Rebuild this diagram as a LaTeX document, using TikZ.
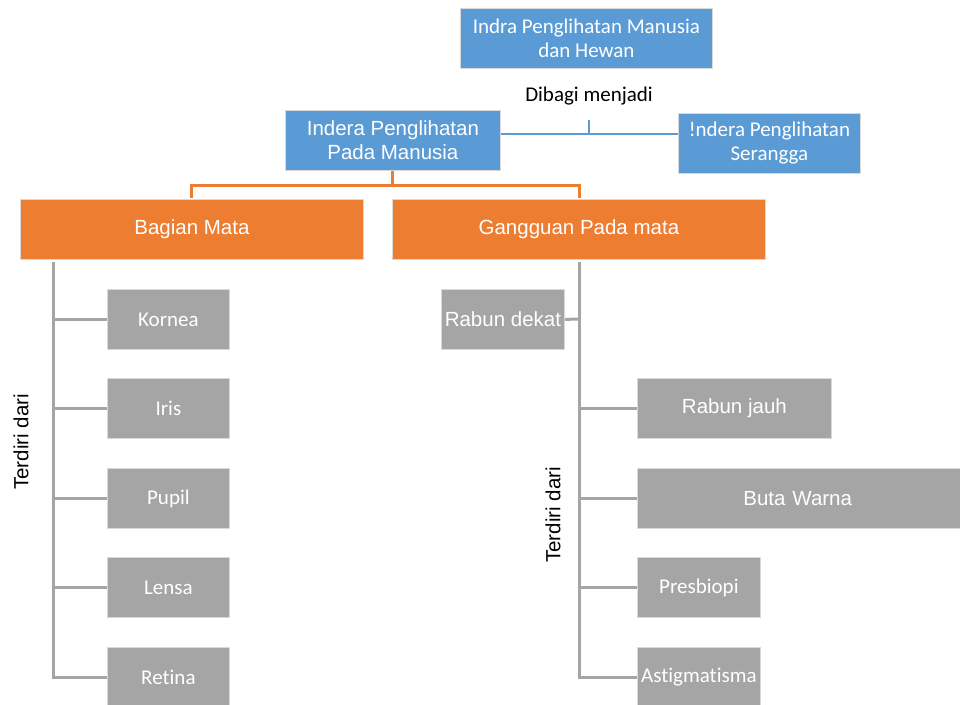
\documentclass[tikz,border=0pt]{standalone}
\usepackage{fontspec}
\setmainfont{Carlito}[Ligatures=NoCommon]
\newfontfamily\arialf{Liberation Sans}
\definecolor{cblue}{HTML}{5B9BD5}
\definecolor{corange}{HTML}{ED7D31}
\definecolor{cgray}{HTML}{A5A5A5}
\begin{document}
\begin{tikzpicture}[x=1pt,y=-1pt,
  box/.style={draw=white!85!black, line width=0.8pt, text=white, align=center, inner sep=0pt, anchor=north west},
  bluebox/.style={box, fill=cblue, font=\fontsize{21}{24}\selectfont},
  orbox/.style={box, fill=corange, font=\arialf\fontsize{20.5}{24}\selectfont},
  graybox/.style={box, fill=cgray, font=\fontsize{21}{24}\selectfont},
  grayboxa/.style={box, fill=cgray, font=\arialf\fontsize{20.5}{24}\selectfont},
  bline/.style={draw=cblue, line width=1.5pt},
  oline/.style={draw=corange, line width=3pt},
  gline/.style={draw=cgray, line width=3pt},
  lbl/.style={font=\fontsize{21}{24}\selectfont, text=black, inner sep=0pt}
]
\useasboundingbox (0,0) rectangle (960,704);
\clip (0,0) rectangle (960,704);
% top
\node[bluebox, minimum width=252pt, minimum height=60pt] (top) at (460,8) {Indra Penglihatan Manusia\\dan Hewan};
\node[lbl] (dibagi) at (589,96) {Dibagi menjadi};
\node[bluebox, font=\arialf\fontsize{20.5}{24}\selectfont, minimum width=215pt, minimum height=60pt] (manusia) at (285,110) {Indera Penglihatan\\Pada Manusia};
\node[bluebox, minimum width=182pt, minimum height=60pt] (serangga) at (678,113) {!ndera Penglihatan\\Serangga};
\coordinate (tick) at (589,120);
\draw[bline] (manusia.east |- 0,134) -- (serangga.west |- 0,134);
\draw[bline] (tick) -- (589,134);
% orange
\node[orbox, minimum width=343pt, minimum height=60pt] (bagian) at (20,199) {Bagian Mata};
\node[orbox, minimum width=373pt, minimum height=60pt] (gangguan) at (392,199) {Gangguan Pada mata};
\draw[oline] (manusia.south -| 392,0) -- (392,185) -| (191,198);
\draw[oline] (392,185) -| (579,198);
% left gray
\foreach \n/\t/\y in {kornea/Kornea/289, iris/Iris/378, pupil/Pupil/468, lensa/Lensa/557, retina/Retina/647}{
  \node[graybox, minimum width=122pt, minimum height=60pt] (\n) at (107,\y) {\t};
}
\draw[gline] (53,262) -- (53,0 |- retina.west) -- (retina.west);
\foreach \n in {kornea,iris,pupil,lensa}{\draw[gline] (53,0 |- \n.west) -- (\n.west);}
\node[lbl, font=\arialf\fontsize{20.5}{24}\selectfont, rotate=90] (terdiri1) at (21,442) {Terdiri dari};
% right gray
\node[grayboxa, minimum width=123pt, minimum height=60pt] (dekat) at (441,289) {Rabun dekat};
\node[grayboxa, minimum width=194pt, minimum height=60pt] (jauh) at (637,378) {Rabun jauh};
\node[grayboxa, minimum width=330pt, minimum height=60pt, text width=330pt, align=left] (buta) at (637,468) {\hspace*{106pt}Buta Warna};
\node[graybox, minimum width=123pt, minimum height=60pt] (presbiopi) at (637,557) {Presbiopi};
\node[graybox, minimum width=123pt, minimum height=60pt] (astig) at (637,647) {Astigmatisma};
\draw[gline] (579,262) -- (579,0 |- astig.west) -- (astig.west);
\draw[gline] (dekat.east) -- (579,319);
\foreach \n in {jauh,buta,presbiopi}{\draw[gline] (579,0 |- \n.west) -- (\n.west);}
\node[lbl, font=\arialf\fontsize{20.5}{24}\selectfont, rotate=90] (terdiri2) at (553,515) {Terdiri dari};
\end{tikzpicture}
\end{document}
